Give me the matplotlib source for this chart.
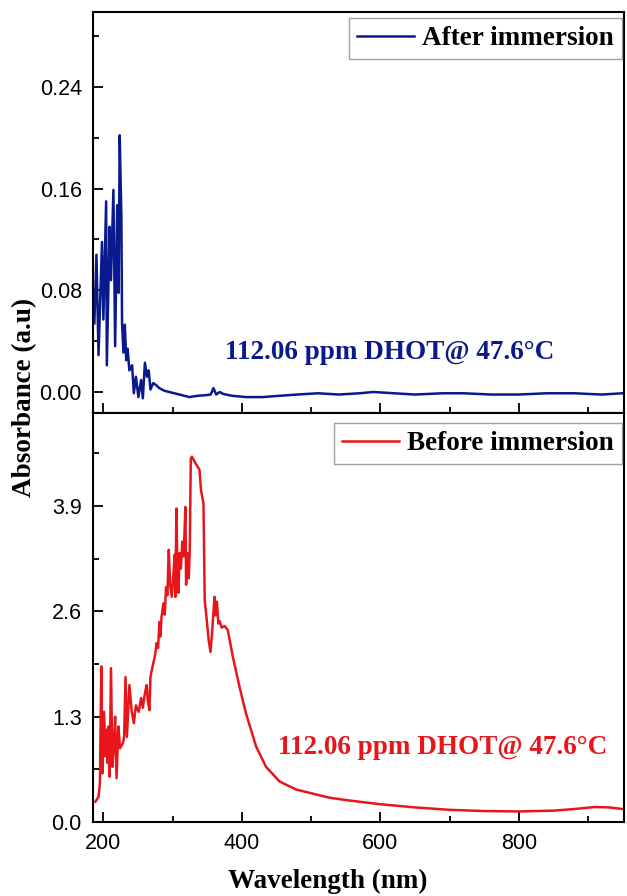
import numpy as np
import matplotlib
matplotlib.use("Agg")
import matplotlib.pyplot as plt
from matplotlib.ticker import MultipleLocator, FormatStrFormatter

# after immersion
wl_after = [187, 190, 193, 198, 200, 204, 205, 209, 211, 214.5, 217, 220, 222, 223.6,
            226, 227, 229, 231, 233, 235, 237.6, 241.5, 244, 247, 250.6, 254.5, 257,
            260, 263, 265.5, 268, 272, 276, 281, 288, 295, 310, 324, 336, 348, 355,
            359, 363, 368, 373, 386, 406, 430, 454, 480, 510, 540, 570, 590, 620,
            650, 690, 720, 760, 800, 840, 880, 920, 950]
abs_after = [0.054, 0.108, 0.029, 0.118, 0.057, 0.150, 0.021, 0.130, 0.088, 0.159,
             0.036, 0.147, 0.078, 0.202, 0.138, 0.054, 0.031, 0.053, 0.025, 0.034,
             0.017, 0.021, -0.001, 0.012, -0.004, 0.0095, -0.005, 0.023, 0.012, 0.017,
             0.002, 0.007, 0.0055, 0.003, 0.001, 0.0, -0.002, -0.004, -0.003, -0.0025,
             -0.002, 0.003, -0.002, 0.0, -0.0015, -0.003, -0.004, -0.004, -0.003,
             -0.002, -0.001, -0.002, -0.001, 0.0, -0.001, -0.002, -0.001, -0.001,
             -0.002, -0.002, -0.001, -0.001, -0.002, -0.001]

# before immersion
wl_before = [188.4, 193, 195, 197, 198.6, 201, 203, 204.8, 206, 207.7, 209, 211, 213,
             215, 217, 219, 221.7, 224, 228, 230, 232, 234, 237.6, 241, 244, 247, 251,
             254.5, 257, 260, 262.6, 264, 266.5, 268, 271, 273.7, 275, 277, 279, 281,
             282.4, 284, 286.7, 288.6, 290.6, 292.5, 294.5, 296.4, 298.8, 301, 303,
             304, 305.5, 307, 308.4, 310, 312, 314, 316, 318.5, 319.5, 321.4, 323.3,
             324.8, 326.3, 328, 333, 338.8, 341, 344.6, 346.4, 349.4, 352, 354.7, 357,
             360.5, 362, 364, 366, 368, 371, 375, 379.7, 387, 396.6, 406,
             420.7, 435, 454.5, 478.6, 512, 526.5, 551, 599, 650, 700,
             750, 800, 850, 880, 910, 930, 950]
abs_before = [0.25, 0.31, 0.48, 1.92, 0.60, 1.36, 0.81, 1.14, 0.73, 1.18, 0.56, 1.90,
              0.68, 0.93, 1.30, 0.54, 1.18, 0.91, 0.97, 1.05, 1.79, 1.05, 1.69, 1.36,
              1.22, 1.44, 1.36, 1.53, 1.41, 1.59, 1.69, 1.51, 1.38, 1.79, 1.92, 2.02,
              2.08, 2.21, 2.15, 2.47, 2.29, 2.53, 2.70, 2.56, 2.90, 2.80, 3.36, 2.93,
              2.78, 3.03, 3.30, 2.78, 3.87, 3.05, 2.83, 3.32, 3.13, 3.46, 3.28, 3.89,
              2.93, 3.32, 3.01, 3.36, 4.49, 4.51, 4.43, 4.35, 4.10, 3.93, 2.74, 2.49,
              2.25, 2.10, 2.33, 2.78, 2.55, 2.72, 2.45, 2.48, 2.40, 2.42, 2.37, 2.04,
              1.67, 1.34, 0.93, 0.68, 0.50, 0.40, 0.33, 0.30, 0.27, 0.22, 0.18, 0.15,
              0.135, 0.13, 0.14, 0.16, 0.185, 0.18, 0.16]

navy = "#0a1a8c"
red = "#e8161b"
serif = "Liberation Serif"
sans = "Liberation Sans"
txt_size = 19.5

fig = plt.figure(figsize=(6.27, 8.96), dpi=100)
ax1 = fig.add_axes([0.1483, 0.5391, 0.8469, 0.4475])
ax2 = fig.add_axes([0.1483, 0.0826, 0.8469, 0.4565], sharex=ax1)

ax1.plot(wl_after, abs_after, color=navy, lw=1.8, label="After immersion")
ax2.plot(wl_before, abs_before, color=red, lw=1.8, label="Before immersion")

ax1.set_ylim(-0.0165, 0.299)
ax2.set_ylim(0, 5.05)
ax1.set_xlim(185, 952)

ax1.yaxis.set_major_locator(MultipleLocator(0.08))
ax1.yaxis.set_minor_locator(MultipleLocator(0.04))
ax2.yaxis.set_major_locator(MultipleLocator(1.3))
ax2.yaxis.set_minor_locator(MultipleLocator(0.65))
ax2.xaxis.set_major_locator(MultipleLocator(200))
ax2.xaxis.set_minor_locator(MultipleLocator(100))
ax1.yaxis.set_major_formatter(FormatStrFormatter("%.2f"))
ax2.yaxis.set_major_formatter(FormatStrFormatter("%.1f"))

for ax in (ax1, ax2):
    for s in ax.spines.values():
        s.set_linewidth(1.5)
    ax.tick_params(which="both", direction="in", width=1.3, top=False, right=False,
                   pad=8)
    ax.tick_params(which="major", length=7)
    ax.tick_params(which="minor", length=4)
    for lab in ax.get_yticklabels() + ax.get_xticklabels():
        lab.set_fontfamily(sans)
        lab.set_fontsize(15.5)
ax1.tick_params(labelbottom=False)

for ax, dy in ((ax1, 6 / 401), (ax2, 10 / 409)):
    leg = ax.legend(loc="upper right", bbox_to_anchor=(1 - 2 / 531, 1 - dy),
                    borderaxespad=0, frameon=True, fancybox=False,
                    edgecolor="#888888", handlelength=2.1, handletextpad=0.3,
                    borderpad=0.3, prop={"family": serif, "weight": "bold",
                                         "size": txt_size})
    leg.get_frame().set_linewidth(1.0)

ax1.text(0.559, 0.152, "112.06 ppm DHOT@ 47.6°C", transform=ax1.transAxes, ha="center",
         va="center", color=navy, family=serif, weight="bold", fontsize=txt_size)
ax2.text(0.659, 0.181, "112.06 ppm DHOT@ 47.6°C", transform=ax2.transAxes, ha="center",
         va="center", color=red, family=serif, weight="bold", fontsize=txt_size)

fig.text(0.04, 0.556, "Absorbance (a.u)", rotation=90, ha="center", va="center",
         family=serif, weight="bold", fontsize=txt_size)
fig.text(0.523, 0.016, "Wavelength (nm)", ha="center", va="center",
         family=serif, weight="bold", fontsize=txt_size)

fig.savefig("out.png", dpi=100)
